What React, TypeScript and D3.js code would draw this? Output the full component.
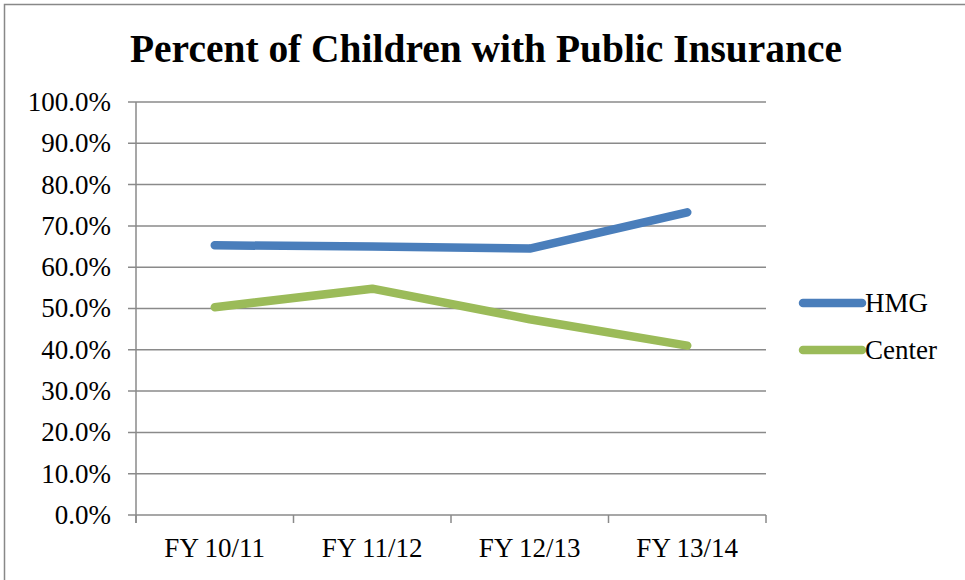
import React from "react";
import * as d3 from "d3";

const categories = ["FY 10/11", "FY 11/12", "FY 12/13", "FY 13/14"];
const hmgValues = [65.3, 65.0, 64.5, 73.3];
const centerValues = [50.3, 54.8, 47.4, 41.0];
const yTicks = [0, 10, 20, 30, 40, 50, 60, 70, 80, 90, 100];
const seriesNames = ["HMG", "Center"];
const seriesColors = ["#4a7ebb", "#9bbb59"];

export default function App() {
  const W = 965, H = 580;
  const left = 136, right = 766, top = 102, bottom = 515;
  const x = d3.scaleBand<string>().domain(categories).range([left, right]);
  const y = d3.scaleLinear().domain([0, 100]).range([bottom, top]);
  const line = d3
    .line<number>()
    .x((_, i) => (x(categories[i]) as number) + x.bandwidth() / 2)
    .y((d) => y(d));
  const series = [hmgValues, centerValues];
  const font = "Liberation Serif, Times New Roman, serif";
  const fs = 27;
  const grid = "#8a8a8a";
  const boundaries = [...categories.map((c) => x(c) as number), right];

  return (
    <svg
      width={W}
      height={H}
      style={{ position: "absolute", left: 0, top: 0, background: "#fff", fontFamily: font }}
    >
      <rect x={4.5} y={4.5} width={2000} height={2000} fill="#fff" stroke="#888" strokeWidth={1.5} />
      <text
        x={486}
        y={62}
        textAnchor="middle"
        style={{ fontFamily: font, fontWeight: "bold", fontSize: "40px" }}
        textLength={712}
        lengthAdjust="spacingAndGlyphs"
        fill="#000"
      >
        Percent of Children with Public Insurance
      </text>
      {yTicks.map((t) => (
        <g key={t}>
          <line x1={left - 8} x2={right} y1={y(t)} y2={y(t)} stroke={grid} strokeWidth={1.5} />
          <text
            x={111}
            y={y(t)}
            dy="0.33em"
            textAnchor="end"
            style={{ fontFamily: font, fontSize: `${fs}px` }}
            fill="#000"
          >
            {t.toFixed(1)}%
          </text>
        </g>
      ))}
      <line x1={left} x2={left} y1={top} y2={bottom + 8} stroke={grid} strokeWidth={1.5} />
      {boundaries.map((b, i) => (
        <line key={i} x1={b} x2={b} y1={bottom} y2={bottom + 8} stroke={grid} strokeWidth={1.5} />
      ))}
      {categories.map((c) => (
        <text
          key={c}
          x={(x(c) as number) + x.bandwidth() / 2}
          y={557}
          textAnchor="middle"
          style={{ fontFamily: font, fontSize: `${fs}px` }}
          fill="#000"
        >
          {c}
        </text>
      ))}
      {series.map((s, i) => (
        <path
          key={i}
          d={line(s) as string}
          fill="none"
          stroke={seriesColors[i]}
          strokeWidth={8.5}
          strokeLinecap="round"
          strokeLinejoin="round"
        />
      ))}
      {seriesNames.map((n, i) => {
        const ly = i === 0 ? 303 : 350;
        return (
          <g key={n}>
            <line x1={803} x2={862} y1={ly} y2={ly} stroke={seriesColors[i]} strokeWidth={8.5} strokeLinecap="round" />
            <text x={865} y={ly} dy="0.33em" style={{ fontFamily: font, fontSize: `${fs}px` }} fill="#000">
              {n}
            </text>
          </g>
        );
      })}
    </svg>
  );
}
